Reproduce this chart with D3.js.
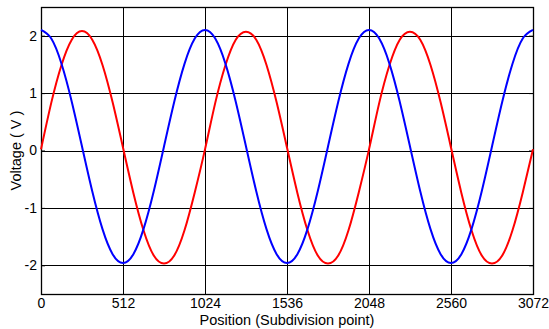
<!DOCTYPE html>
<html>
<head>
<meta charset="utf-8">
<script src="https://cdn.jsdelivr.net/npm/d3@7"></script>
<style>
  body { margin: 0; background: #fff; }
  text { font-family: "Liberation Sans", Arial, sans-serif; fill: #000; }
</style>
</head>
<body>
<div class="chart"></div>
<script>
// subdivision points where the curves were read
var positions = [0, 64, 128, 192, 256, 320, 384, 448, 512, 576, 640, 704, 768, 832, 896, 960,
  1024, 1088, 1152, 1216, 1280, 1344, 1408, 1472, 1536, 1600, 1664, 1728, 1792, 1856, 1920, 1984,
  2048, 2112, 2176, 2240, 2304, 2368, 2432, 2496, 2560, 2624, 2688, 2752, 2816, 2880, 2944, 3008, 3072];

var blueVolts = [2.10, 1.95, 1.51, 0.85, 0.07, -0.71, -1.37, -1.81, -1.96, -1.81, -1.37, -0.71, 0.07, 0.85, 1.51, 1.95,
  2.10, 1.95, 1.51, 0.85, 0.07, -0.71, -1.37, -1.81, -1.96, -1.81, -1.37, -0.71, 0.07, 0.85, 1.51, 1.95,
  2.10, 1.95, 1.51, 0.85, 0.07, -0.71, -1.37, -1.81, -1.96, -1.81, -1.37, -0.71, 0.07, 0.85, 1.51, 1.95, 2.10];

var redVolts = [0.02, 0.83, 1.49, 1.93, 2.08, 1.93, 1.49, 0.83, 0.05, -0.73, -1.39, -1.83, -1.97, -1.83, -1.39, -0.73,
  0.02, 0.83, 1.49, 1.93, 2.07, 1.93, 1.49, 0.83, 0.05, -0.73, -1.39, -1.83, -1.97, -1.83, -1.39, -0.73,
  0.02, 0.83, 1.49, 1.93, 2.07, 1.93, 1.49, 0.83, 0.05, -0.73, -1.39, -1.83, -1.97, -1.83, -1.39, -0.73, 0.02];

var xTicks = [0, 512, 1024, 1536, 2048, 2560, 3072];
var yTicks = [-2, -1, 0, 1, 2];

var margin = {top: 7, left: 41, right: 16, bottom: 35};
var W = 549, H = 329;
var w = W - margin.left - margin.right,
    h = H - margin.top - margin.bottom;

var svg = d3.select(".chart").append("svg")
    .attr("width", W)
    .attr("height", H);

var g = svg.append("g")
    .attr("transform", "translate(" + margin.left + "," + margin.top + ")");

var x = d3.scaleLinear().domain([0, 3072]).range([0, w]);
var y = d3.scaleLinear().domain([-2.5, 2.5]).range([h, 0]);

// plain hyphen for negatives, like the original
var fmt = function(d) { return String(d); };

// grid
g.append("g").selectAll("line")
  .data(xTicks)
  .enter().append("line")
    .attr("x1", function(d) { return Math.round(x(d)) + 0.5; })
    .attr("x2", function(d) { return Math.round(x(d)) + 0.5; })
    .attr("y1", 0).attr("y2", h)
    .attr("stroke", "#000").attr("stroke-width", 1);

g.append("g").selectAll("line")
  .data(yTicks)
  .enter().append("line")
    .attr("y1", function(d) { return Math.round(y(d)) + 0.5; })
    .attr("y2", function(d) { return Math.round(y(d)) + 0.5; })
    .attr("x1", 0).attr("x2", w)
    .attr("stroke", "#000").attr("stroke-width", 1);

// axes (labels only, ticks drawn inward)
g.append("g")
    .attr("transform", "translate(0," + h + ")")
    .call(d3.axisBottom(x).tickValues(xTicks).tickSize(-4).tickPadding(4).tickFormat(fmt));
g.append("g")
    .call(d3.axisLeft(y).tickValues(yTicks).tickSize(-4).tickPadding(4).tickFormat(fmt));
g.append("g")
    .attr("transform", "translate(" + w + ",0)")
    .call(d3.axisRight(y).tickValues(yTicks).tickSize(-4).tickFormat(""));
g.append("g")
    .call(d3.axisTop(x).tickValues(xTicks).tickSize(-4).tickFormat(""));

g.selectAll(".domain").remove();
g.selectAll(".tick line").attr("stroke", "#000");
g.selectAll(".tick text").style("font-size", "14px").attr("fill", "#000");

// frame
g.append("rect")
    .attr("x", 0.5).attr("y", 0.5)
    .attr("width", w).attr("height", h)
    .attr("fill", "none")
    .attr("stroke", "#000")
    .attr("stroke-width", 1.3);

// curves
var line = d3.line()
    .curve(d3.curveNatural)
    .x(function(d) { return x(d[0]); })
    .y(function(d) { return y(d[1]); });

g.append("path")
    .datum(d3.zip(positions, redVolts))
    .attr("d", line)
    .attr("fill", "none")
    .attr("stroke", "#ff0000")
    .attr("stroke-width", 2);

g.append("path")
    .datum(d3.zip(positions, blueVolts))
    .attr("d", line)
    .attr("fill", "none")
    .attr("stroke", "#0000ff")
    .attr("stroke-width", 2);

// labels
svg.append("text")
    .attr("x", margin.left + w / 2)
    .attr("y", 324.5)
    .attr("text-anchor", "middle")
    .style("font-size", "14.5px")
    .text("Position (Subdivision point)");

svg.append("text")
    .attr("transform", "translate(21," + (margin.top + h / 2) + ") rotate(-90)")
    .attr("text-anchor", "middle")
    .style("font-size", "14.5px")
    .text("Voltage ( V )");
</script>
</body>
</html>
